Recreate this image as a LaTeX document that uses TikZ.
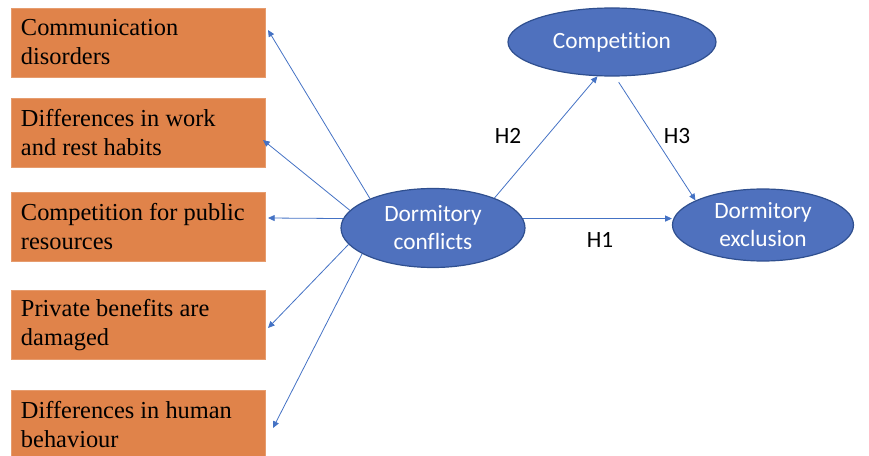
\documentclass[tikz,border=0pt]{standalone}
\usepackage{fontspec}
\setmainfont{Liberation Serif}
\newfontfamily\calib[Ligatures=NoCommon]{Carlito}
\usetikzlibrary{positioning,arrows.meta,shapes.geometric}
\definecolor{boxorange}{HTML}{E0834A}
\definecolor{ellblue}{HTML}{4F71BE}
\definecolor{elldark}{HTML}{2F4F8F}
\definecolor{arrblue}{HTML}{4472C4}

\begin{document}
\begin{tikzpicture}[x=0.75pt,y=-0.75pt,
  factor/.style={fill=boxorange,draw=boxorange!80!white,minimum width=190.5pt,minimum height=51.75pt,
    text width=175.5pt,inner xsep=7.5pt,align=flush left,font=\fontsize{18.3}{21.75}\selectfont},
  latent/.style={ellipse,fill=ellblue,draw=elldark,line width=0.9pt,inner sep=0pt,text=white,
    align=center,font=\calib\fontsize{17.5}{21}\selectfont},
  arr/.style={draw=arrblue,line width=0.6pt,-{Triangle[length=5pt,width=4.5pt]}},
  hyp/.style={font=\calib\fontsize{17.5}{21}\selectfont}]
\useasboundingbox (0,0) rectangle (869,456);

% left-hand factors
\node[factor] (b1) at (138,42.5) {Communication\\disorders};
\node[factor] (b2) at (138,132.5) {Differences in work\\and rest habits};
\node[factor] (b3) at (138,226.5) {Competition for public\\resources};
\node[factor] (b4) at (138,325) {Private benefits are\\damaged};
\node[factor] (b5) at (138,424.5) {Differences in human\\behaviour};

% model
\node[latent,minimum width=156pt,minimum height=51pt] (comp) at (612,42) {Competition};
\node[latent,minimum width=138pt,minimum height=59.25pt] (dc) at (433,228) {Dormitory\\conflicts};
\node[latent,minimum width=135.75pt,minimum height=54pt] (ex) at (763,225) {Dormitory\\exclusion};

% arrow ends next to the boxes
\coordinate (t1) at (268,30);
\coordinate (t2) at (263,140);
\coordinate (t3) at (268,218);
\coordinate (t4) at (268,328);
\coordinate (t5) at (273,428);

\foreach \i/\a in {1/155,2/168,3/174,4/191,5/200}
  \draw[arr] (dc.\a) -- (t\i);

\draw[arr] (dc.26) -- (comp.247);
\draw[arr,shorten <=5pt] (comp.275) -- (ex.160);
\draw[arr] (dc.6) -- (dc.6 -| ex.west);

\node[hyp] (h2) at (508,136) {H2};
\node[hyp] (h3) at (677,136) {H3};
\node[hyp] (h1) at (600,240) {H1};
\end{tikzpicture}
\end{document}
